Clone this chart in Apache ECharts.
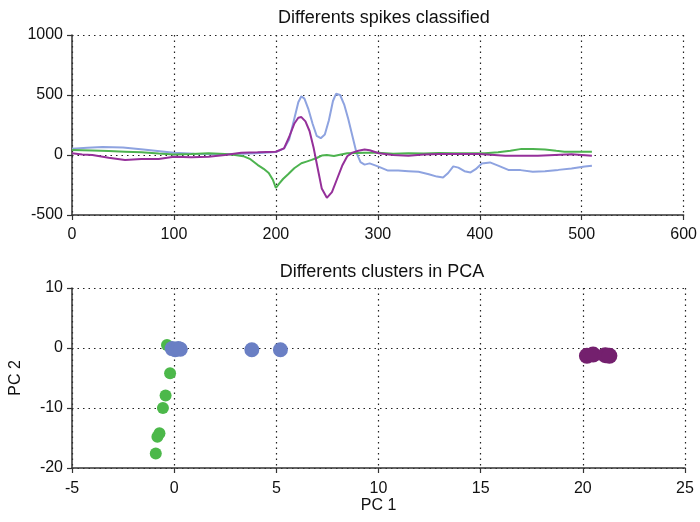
<!DOCTYPE html>
<html>
<head>
<meta charset="utf-8">
<script src="https://cdn.jsdelivr.net/npm/echarts@6/dist/echarts.min.js"></script>
<style>html,body{margin:0;padding:0;background:#fff}#c{width:700px;height:522px}</style>
</head>
<body>
<div id="c"></div>
<script>
// ---- Top plot: spike waveforms ----
const blueX = [0,15,30,50,70,100,120,140,160,180,200,208,213,218,222,225,228,232,236,240,244,248,252,256,259,263,267,271,275,279,283,287,292,300,310,320,330,340,350,358,364,369,374,379,385,391,396,402,410,418,428,440,452,464,477,490,503,510];
const blueY = [52,60,66,62,45,18,10,6,8,14,25,55,130,300,440,490,470,380,260,160,140,170,290,450,510,500,420,300,160,20,-60,-80,-70,-95,-130,-130,-135,-140,-160,-180,-188,-150,-95,-105,-135,-145,-118,-70,-62,-88,-124,-126,-140,-135,-124,-112,-96,-90];
const purpleX = [0,10,20,36,52,68,85,100,117,134,150,166,182,200,208,213,218,222,225,229,233,237,241,245,250,255,260,265,270,275,281,287,292,301,315,330,345,360,380,400,425,457,490,510];
const purpleY = [14,5,0,-22,-41,-33,-33,-14,-19,-14,0,19,22,27,55,150,260,310,316,280,200,60,-110,-280,-357,-310,-200,-90,-10,20,35,45,40,14,0,-6,5,8,8,8,-6,-6,6,-6];
const greenX = [0,20,36,52,68,85,100,117,134,150,160,168,175,182,188,193,197,200,203,207,212,218,225,230,235,240,245,250,257,264,270,280,287,300,315,330,345,360,375,392,405,418,430,441,452,464,475,483,495,510];
const greenY = [41,38,33,28,22,12,5,8,14,8,0,-10,-35,-82,-115,-150,-206,-275,-240,-200,-160,-110,-69,-55,-41,-25,-5,0,-8,5,14,17,19,19,10,14,12,17,15,14,15,22,35,51,50,45,35,28,28,28];

// ---- Bottom plot: PCA clusters ----
const greenPC1 = [-0.35,-0.2,-0.42,-0.55,-0.72,-0.82,-0.9];
const greenPC2 = [0.5,-4.2,-7.9,-10,-14.2,-14.8,-17.6];
const bluePC1 = [-0.1,0.05,0.2,0.3,3.8,5.2];
const bluePC2 = [-0.1,-0.3,-0.1,-0.2,-0.3,-0.3];
const purplePC1 = [20.2,20.5,21.1,21.3];
const purplePC2 = [-1.3,-1.1,-1.2,-1.3];

const zip = (a, b) => a.map((v, i) => [v, b[i]]);

const FONT = 'Liberation Sans, Arial, sans-serif';
const txt = {color: '#111', fontFamily: FONT, fontSize: 16};
const splitDotted = {show: true, lineStyle: {color: '#222', type: [1.5, 4], width: 1.2}};
const axLine = {show: true, onZero: false, lineStyle: {color: '#333', width: 1.5}};
const axTick = {show: true, inside: false, length: 5, lineStyle: {color: '#333', width: 1.2}};
const plain = v => String(v);
const titleStyle = {color: '#111', fontFamily: FONT, fontSize: 18, fontWeight: 'normal'};

const chart = echarts.init(document.getElementById('c'), null, {renderer: 'canvas'});
chart.setOption({
  animation: false,
  backgroundColor: '#fff',
  title: [
    {text: 'Differents spikes classified', left: 379, top: 4, textAlign: 'center', textStyle: titleStyle},
    {text: 'Differents clusters in PCA', left: 377, top: 258, textAlign: 'center', textStyle: titleStyle}
  ],
  grid: [
    {left: 72, right: 15, top: 35, height: 180},
    {left: 72, right: 15, top: 288, height: 180}
  ],
  xAxis: [
    {type: 'value', gridIndex: 0, min: 0, max: 600, interval: 100,
     axisLine: axLine, axisTick: axTick, splitLine: splitDotted,
     axisLabel: Object.assign({margin: 12, formatter: plain}, txt)},
    {type: 'value', gridIndex: 1, min: -5, max: 25, interval: 5,
     axisLine: axLine, axisTick: axTick, splitLine: splitDotted,
     axisLabel: Object.assign({margin: 13, formatter: plain}, txt),
     name: 'PC 1', nameLocation: 'middle', nameGap: 30, nameTextStyle: txt}
  ],
  yAxis: [
    {type: 'value', gridIndex: 0, min: -500, max: 1000, interval: 500,
     axisLine: axLine, axisTick: axTick, splitLine: splitDotted,
     axisLabel: Object.assign({margin: 9, formatter: plain}, txt)},
    {type: 'value', gridIndex: 1, min: -20, max: 10, interval: 10,
     axisLine: axLine, axisTick: axTick, splitLine: splitDotted,
     axisLabel: Object.assign({margin: 9, formatter: plain}, txt),
     name: 'PC 2', nameLocation: 'middle', nameGap: 48, nameTextStyle: txt}
  ],
  series: [
    {type: 'line', xAxisIndex: 0, yAxisIndex: 0, data: zip(greenX, greenY), showSymbol: false,
     lineStyle: {color: '#4db34f', width: 2}, z: 3},
    {type: 'line', xAxisIndex: 0, yAxisIndex: 0, data: zip(blueX, blueY), showSymbol: false,
     lineStyle: {color: '#8ea3e0', width: 2}, z: 2},
    {type: 'line', xAxisIndex: 0, yAxisIndex: 0, data: zip(purpleX, purpleY), showSymbol: false,
     lineStyle: {color: '#95309a', width: 2}, z: 4},
    {type: 'scatter', xAxisIndex: 1, yAxisIndex: 1, data: zip(greenPC1, greenPC2), symbolSize: 12,
     itemStyle: {color: '#4cb84a', opacity: 1}, z: 2},
    {type: 'scatter', xAxisIndex: 1, yAxisIndex: 1, data: zip(bluePC1, bluePC2), symbolSize: 15,
     itemStyle: {color: '#6a7fc4', opacity: 1}, z: 3},
    {type: 'scatter', xAxisIndex: 1, yAxisIndex: 1, data: zip(purplePC1, purplePC2), symbolSize: 16,
     itemStyle: {color: '#74206e', opacity: 1}, z: 3}
  ]
});
</script>
</body>
</html>
